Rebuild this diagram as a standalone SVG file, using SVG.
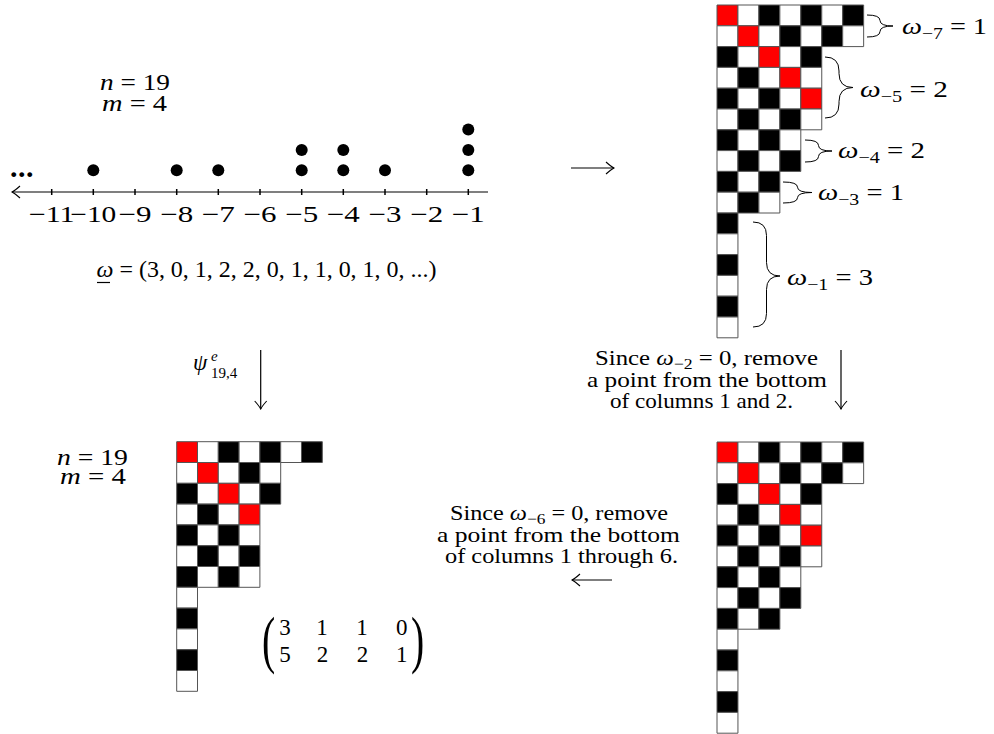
<svg xmlns="http://www.w3.org/2000/svg" width="994" height="734" viewBox="0 0 994 734">
<style>
text{font-family:"Liberation Serif","Times New Roman",serif;font-size:23px;fill:#000}
.i{font-style:italic}
.sub{font-size:16px}
.s15{font-size:15px}
.p{font-size:21px}
.big{font-size:64px}
.dots{font-size:30px;font-weight:bold;letter-spacing:0.5px}
.grid rect{stroke:#555;stroke-width:1;vector-effect:non-scaling-stroke}
.b{fill:#000}.w{fill:#fff}.r{fill:#f00}
.ln{stroke:#000;stroke-width:1.2;fill:none}
.br{stroke:#000;stroke-width:1;fill:none}
.dot{fill:#000}
</style>
<defs>
<marker id="ah" viewBox="-9 -7 10 14" refX="0" refY="0" markerWidth="10" markerHeight="14" markerUnits="userSpaceOnUse" orient="auto">
<path d="M-8,-6 Q-3,-1.5 0,0 Q-3,1.5 -8,6" fill="none" stroke="#000" stroke-width="1.1"/>
</marker>
</defs>
<rect width="994" height="734" fill="#fff"/>

<g id="number-line">
<path class="ln" d="M488,192 H12" marker-end="url(#ah)"/>
<path stroke="#000" stroke-width="1.5" d="M51.7,189V195M93.3,189V195M135,189V195M176.7,189V195M218.3,189V195M260,189V195M301.7,189V195M343.3,189V195M385,189V195M426.7,189V195M468.3,189V195"/>
<circle class="dot" cx="93.3" cy="170.3" r="6"/>
<circle class="dot" cx="176.7" cy="170.3" r="6"/>
<circle class="dot" cx="218.3" cy="170.3" r="6"/>
<circle class="dot" cx="301.7" cy="170.3" r="6"/>
<circle class="dot" cx="301.7" cy="150" r="6"/>
<circle class="dot" cx="343.3" cy="170.3" r="6"/>
<circle class="dot" cx="343.3" cy="150" r="6"/>
<circle class="dot" cx="385" cy="170.3" r="6"/>
<circle class="dot" cx="468.3" cy="170.3" r="6"/>
<circle class="dot" cx="468.3" cy="150" r="6"/>
<circle class="dot" cx="468.3" cy="129.5" r="6"/>
<text class="dots" x="10" y="177">...</text>
<g text-anchor="middle">
<text x="51.7" y="222" textLength="46" lengthAdjust="spacingAndGlyphs">−11</text>
<text x="93.3" y="222" textLength="46" lengthAdjust="spacingAndGlyphs">−10</text>
<text x="135" y="222" textLength="33" lengthAdjust="spacingAndGlyphs">−9</text>
<text x="176.7" y="222" textLength="33" lengthAdjust="spacingAndGlyphs">−8</text>
<text x="218.3" y="222" textLength="33" lengthAdjust="spacingAndGlyphs">−7</text>
<text x="260" y="222" textLength="33" lengthAdjust="spacingAndGlyphs">−6</text>
<text x="301.7" y="222" textLength="33" lengthAdjust="spacingAndGlyphs">−5</text>
<text x="343.3" y="222" textLength="33" lengthAdjust="spacingAndGlyphs">−4</text>
<text x="385" y="222" textLength="33" lengthAdjust="spacingAndGlyphs">−3</text>
<text x="426.7" y="222" textLength="33" lengthAdjust="spacingAndGlyphs">−2</text>
<text x="468.3" y="222" textLength="33" lengthAdjust="spacingAndGlyphs">−1</text>
</g>
</g>

<g id="params-top">
<text x="100" y="90" textLength="70" lengthAdjust="spacingAndGlyphs"><tspan class="i">n</tspan> = 19</text>
<text x="102" y="110.7" textLength="65" lengthAdjust="spacingAndGlyphs"><tspan class="i">m</tspan> = 4</text>
</g>

<g id="omega-vector">
<text x="96.5" y="277" textLength="340" lengthAdjust="spacingAndGlyphs"><tspan class="i">ω</tspan> = (3, 0, 1, 2, 2, 0, 1, 1, 0, 1, 0, ...)</text>
<path d="M97,282.5 H110" stroke="#000" stroke-width="1.2"/>
</g>

<g id="grid-top-right" class="grid" transform="translate(717,5) scale(20.95,20.8)">
<rect x="0" y="0" width="1" height="1" class="r"/><rect x="1" y="0" width="1" height="1" class="w"/><rect x="2" y="0" width="1" height="1" class="b"/><rect x="3" y="0" width="1" height="1" class="w"/><rect x="4" y="0" width="1" height="1" class="b"/><rect x="5" y="0" width="1" height="1" class="w"/><rect x="6" y="0" width="1" height="1" class="b"/>
<rect x="0" y="1" width="1" height="1" class="w"/><rect x="1" y="1" width="1" height="1" class="r"/><rect x="2" y="1" width="1" height="1" class="w"/><rect x="3" y="1" width="1" height="1" class="b"/><rect x="4" y="1" width="1" height="1" class="w"/><rect x="5" y="1" width="1" height="1" class="b"/><rect x="6" y="1" width="1" height="1" class="w"/>
<rect x="0" y="2" width="1" height="1" class="b"/><rect x="1" y="2" width="1" height="1" class="w"/><rect x="2" y="2" width="1" height="1" class="r"/><rect x="3" y="2" width="1" height="1" class="w"/><rect x="4" y="2" width="1" height="1" class="b"/>
<rect x="0" y="3" width="1" height="1" class="w"/><rect x="1" y="3" width="1" height="1" class="b"/><rect x="2" y="3" width="1" height="1" class="w"/><rect x="3" y="3" width="1" height="1" class="r"/><rect x="4" y="3" width="1" height="1" class="w"/>
<rect x="0" y="4" width="1" height="1" class="b"/><rect x="1" y="4" width="1" height="1" class="w"/><rect x="2" y="4" width="1" height="1" class="b"/><rect x="3" y="4" width="1" height="1" class="w"/><rect x="4" y="4" width="1" height="1" class="r"/>
<rect x="0" y="5" width="1" height="1" class="w"/><rect x="1" y="5" width="1" height="1" class="b"/><rect x="2" y="5" width="1" height="1" class="w"/><rect x="3" y="5" width="1" height="1" class="b"/><rect x="4" y="5" width="1" height="1" class="w"/>
<rect x="0" y="6" width="1" height="1" class="b"/><rect x="1" y="6" width="1" height="1" class="w"/><rect x="2" y="6" width="1" height="1" class="b"/><rect x="3" y="6" width="1" height="1" class="w"/>
<rect x="0" y="7" width="1" height="1" class="w"/><rect x="1" y="7" width="1" height="1" class="b"/><rect x="2" y="7" width="1" height="1" class="w"/><rect x="3" y="7" width="1" height="1" class="b"/>
<rect x="0" y="8" width="1" height="1" class="b"/><rect x="1" y="8" width="1" height="1" class="w"/><rect x="2" y="8" width="1" height="1" class="b"/>
<rect x="0" y="9" width="1" height="1" class="w"/><rect x="1" y="9" width="1" height="1" class="b"/><rect x="2" y="9" width="1" height="1" class="w"/>
<rect x="0" y="10" width="1" height="1" class="b"/>
<rect x="0" y="11" width="1" height="1" class="w"/>
<rect x="0" y="12" width="1" height="1" class="b"/>
<rect x="0" y="13" width="1" height="1" class="w"/>
<rect x="0" y="14" width="1" height="1" class="b"/>
<rect x="0" y="15" width="1" height="1" class="w"/>
</g>

<g id="braces-top-right">
<path class="br" d="M867,15 Q880,15 880,20.5 Q880,26 893,26 Q880,26 880,31.5 Q880,37 867,37"/>
<path class="br" d="M825,57 Q839,57 839,71 L839,73.5 Q839,87.5 853,87.5 Q839,87.5 839,101.5 L839,104 Q839,118 825,118"/>
<path class="br" d="M805,140 Q818.5,140 818.5,145.5 Q818.5,151 832,151 Q818.5,151 818.5,156.5 Q818.5,162 805,162"/>
<path class="br" d="M783,182 Q797.5,182 797.5,187.2 Q797.5,192.5 812,192.5 Q797.5,192.5 797.5,197.7 Q797.5,203 783,203"/>
<path class="br" d="M753,222 Q766.5,222 766.5,235.5 L766.5,262.5 Q766.5,276 780,276 Q766.5,276 766.5,289.5 L766.5,313.5 Q766.5,327 753,327"/>
<text x="902" y="34" textLength="85" lengthAdjust="spacingAndGlyphs"><tspan class="i">ω</tspan><tspan class="sub" dy="5">−7</tspan><tspan dy="-5"> = 1</tspan></text>
<text x="860" y="97" textLength="88" lengthAdjust="spacingAndGlyphs"><tspan class="i">ω</tspan><tspan class="sub" dy="5">−5</tspan><tspan dy="-5"> = 2</tspan></text>
<text x="838" y="158" textLength="87" lengthAdjust="spacingAndGlyphs"><tspan class="i">ω</tspan><tspan class="sub" dy="5">−4</tspan><tspan dy="-5"> = 2</tspan></text>
<text x="818" y="200" textLength="86" lengthAdjust="spacingAndGlyphs"><tspan class="i">ω</tspan><tspan class="sub" dy="5">−3</tspan><tspan dy="-5"> = 1</tspan></text>
<text x="787" y="285" textLength="86" lengthAdjust="spacingAndGlyphs"><tspan class="i">ω</tspan><tspan class="sub" dy="5">−1</tspan><tspan dy="-5"> = 3</tspan></text>
</g>

<g id="grid-bottom-right" class="grid" transform="translate(717,442) scale(20.95,20.8)">
<rect x="0" y="0" width="1" height="1" class="r"/><rect x="1" y="0" width="1" height="1" class="w"/><rect x="2" y="0" width="1" height="1" class="b"/><rect x="3" y="0" width="1" height="1" class="w"/><rect x="4" y="0" width="1" height="1" class="b"/><rect x="5" y="0" width="1" height="1" class="w"/><rect x="6" y="0" width="1" height="1" class="b"/>
<rect x="0" y="1" width="1" height="1" class="w"/><rect x="1" y="1" width="1" height="1" class="r"/><rect x="2" y="1" width="1" height="1" class="w"/><rect x="3" y="1" width="1" height="1" class="b"/><rect x="4" y="1" width="1" height="1" class="w"/><rect x="5" y="1" width="1" height="1" class="b"/><rect x="6" y="1" width="1" height="1" class="w"/>
<rect x="0" y="2" width="1" height="1" class="b"/><rect x="1" y="2" width="1" height="1" class="w"/><rect x="2" y="2" width="1" height="1" class="r"/><rect x="3" y="2" width="1" height="1" class="w"/><rect x="4" y="2" width="1" height="1" class="b"/>
<rect x="0" y="3" width="1" height="1" class="w"/><rect x="1" y="3" width="1" height="1" class="b"/><rect x="2" y="3" width="1" height="1" class="w"/><rect x="3" y="3" width="1" height="1" class="r"/><rect x="4" y="3" width="1" height="1" class="w"/>
<rect x="0" y="4" width="1" height="1" class="b"/><rect x="1" y="4" width="1" height="1" class="w"/><rect x="2" y="4" width="1" height="1" class="b"/><rect x="3" y="4" width="1" height="1" class="w"/><rect x="4" y="4" width="1" height="1" class="r"/>
<rect x="0" y="5" width="1" height="1" class="w"/><rect x="1" y="5" width="1" height="1" class="b"/><rect x="2" y="5" width="1" height="1" class="w"/><rect x="3" y="5" width="1" height="1" class="b"/><rect x="4" y="5" width="1" height="1" class="w"/>
<rect x="0" y="6" width="1" height="1" class="b"/><rect x="1" y="6" width="1" height="1" class="w"/><rect x="2" y="6" width="1" height="1" class="b"/><rect x="3" y="6" width="1" height="1" class="w"/>
<rect x="0" y="7" width="1" height="1" class="w"/><rect x="1" y="7" width="1" height="1" class="b"/><rect x="2" y="7" width="1" height="1" class="w"/><rect x="3" y="7" width="1" height="1" class="b"/>
<rect x="0" y="8" width="1" height="1" class="b"/><rect x="1" y="8" width="1" height="1" class="w"/><rect x="2" y="8" width="1" height="1" class="b"/>
<rect x="0" y="9" width="1" height="1" class="w"/>
<rect x="0" y="10" width="1" height="1" class="b"/>
<rect x="0" y="11" width="1" height="1" class="w"/>
<rect x="0" y="12" width="1" height="1" class="b"/>
<rect x="0" y="13" width="1" height="1" class="w"/>
</g>

<g id="grid-bottom-left" class="grid" transform="translate(176.7,441.7) scale(20.8,20.8)">
<rect x="0" y="0" width="1" height="1" class="r"/><rect x="1" y="0" width="1" height="1" class="w"/><rect x="2" y="0" width="1" height="1" class="b"/><rect x="3" y="0" width="1" height="1" class="w"/><rect x="4" y="0" width="1" height="1" class="b"/><rect x="5" y="0" width="1" height="1" class="w"/><rect x="6" y="0" width="1" height="1" class="b"/>
<rect x="0" y="1" width="1" height="1" class="w"/><rect x="1" y="1" width="1" height="1" class="r"/><rect x="2" y="1" width="1" height="1" class="w"/><rect x="3" y="1" width="1" height="1" class="b"/><rect x="4" y="1" width="1" height="1" class="w"/>
<rect x="0" y="2" width="1" height="1" class="b"/><rect x="1" y="2" width="1" height="1" class="w"/><rect x="2" y="2" width="1" height="1" class="r"/><rect x="3" y="2" width="1" height="1" class="w"/><rect x="4" y="2" width="1" height="1" class="b"/>
<rect x="0" y="3" width="1" height="1" class="w"/><rect x="1" y="3" width="1" height="1" class="b"/><rect x="2" y="3" width="1" height="1" class="w"/><rect x="3" y="3" width="1" height="1" class="r"/>
<rect x="0" y="4" width="1" height="1" class="b"/><rect x="1" y="4" width="1" height="1" class="w"/><rect x="2" y="4" width="1" height="1" class="b"/><rect x="3" y="4" width="1" height="1" class="w"/>
<rect x="0" y="5" width="1" height="1" class="w"/><rect x="1" y="5" width="1" height="1" class="b"/><rect x="2" y="5" width="1" height="1" class="w"/><rect x="3" y="5" width="1" height="1" class="b"/>
<rect x="0" y="6" width="1" height="1" class="b"/><rect x="1" y="6" width="1" height="1" class="w"/><rect x="2" y="6" width="1" height="1" class="b"/><rect x="3" y="6" width="1" height="1" class="w"/>
<rect x="0" y="7" width="1" height="1" class="w"/>
<rect x="0" y="8" width="1" height="1" class="b"/>
<rect x="0" y="9" width="1" height="1" class="w"/>
<rect x="0" y="10" width="1" height="1" class="b"/>
<rect x="0" y="11" width="1" height="1" class="w"/>
</g>

<g id="params-bottom">
<text x="57" y="465" textLength="71" lengthAdjust="spacingAndGlyphs"><tspan class="i">n</tspan> = 19</text>
<text x="60" y="484" textLength="66" lengthAdjust="spacingAndGlyphs"><tspan class="i">m</tspan> = 4</text>
</g>

<g id="matrix">
<text class="big" transform="translate(262,661.3) scale(0.62,1)">(</text>
<text class="big" transform="translate(411,661.3) scale(0.62,1)">)</text>
<g text-anchor="middle">
<text x="285" y="635">3</text><text x="322" y="635">1</text><text x="362" y="635">1</text><text x="401.7" y="635">0</text>
<text x="285" y="661.7">5</text><text x="322.5" y="661.7">2</text><text x="362.5" y="661.7">2</text><text x="401.7" y="661.7">1</text>
</g>
</g>

<g id="label-psi">
<text class="i" x="193" y="370">ψ</text>
<text class="i s15" x="211" y="361">e</text>
<text class="s15" x="211" y="378">19,4</text>
</g>

<g id="label-step1">
<text class="p" x="595" y="365" textLength="223" lengthAdjust="spacingAndGlyphs">Since <tspan class="i">ω</tspan><tspan class="s15" dy="4">−2</tspan><tspan dy="-4"> = 0, remove</tspan></text>
<text class="p" x="587" y="386.7" textLength="240" lengthAdjust="spacingAndGlyphs">a point from the bottom</text>
<text class="p" x="610" y="407.7" textLength="183" lengthAdjust="spacingAndGlyphs">of columns 1 and 2.</text>
</g>

<g id="label-step2">
<text class="p" x="450" y="520" textLength="218" lengthAdjust="spacingAndGlyphs">Since <tspan class="i">ω</tspan><tspan class="s15" dy="4">−6</tspan><tspan dy="-4"> = 0, remove</tspan></text>
<text class="p" x="437" y="541.7" textLength="243" lengthAdjust="spacingAndGlyphs">a point from the bottom</text>
<text class="p" x="445" y="562.7" textLength="233" lengthAdjust="spacingAndGlyphs">of columns 1 through 6.</text>
</g>

<g id="connectors">
<path class="ln" d="M571,168 H614" marker-end="url(#ah)"/>
<path class="ln" d="M260.7,350 V409" marker-end="url(#ah)"/>
<path class="ln" d="M841,350 V409" marker-end="url(#ah)"/>
<path class="ln" d="M612,580 H572" marker-end="url(#ah)"/>
</g>
</svg>
